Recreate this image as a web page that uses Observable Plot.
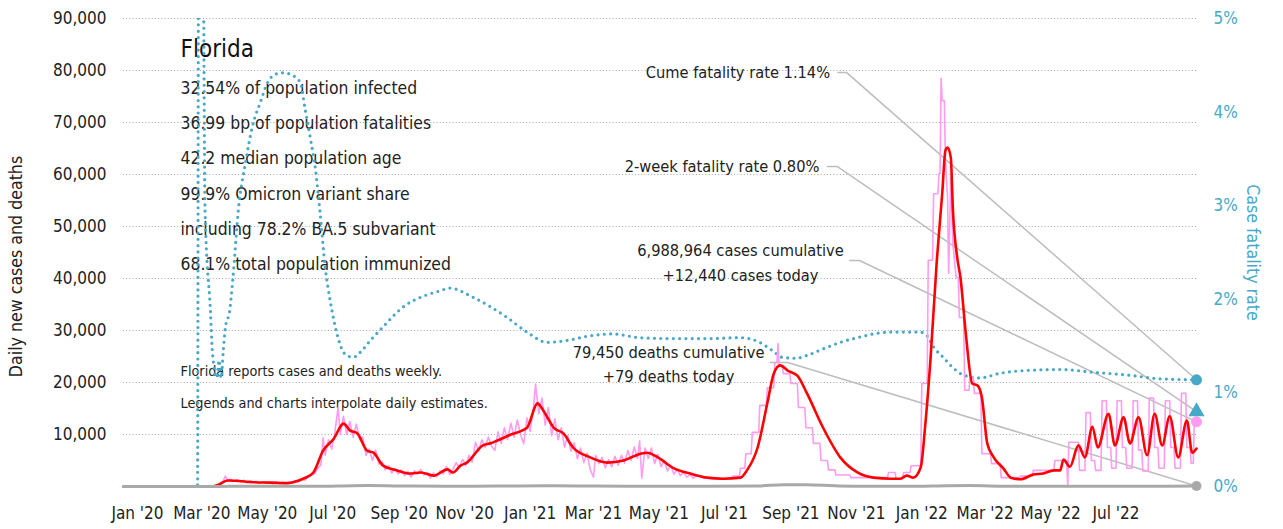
<!DOCTYPE html>
<html><head><meta charset="utf-8">
<script src="https://cdn.jsdelivr.net/npm/d3@7"></script>
<script src="https://cdn.jsdelivr.net/npm/@observablehq/plot@0.6"></script>
<style>html,body{margin:0;padding:0;background:#fff}svg{display:block}svg text{font-stretch:condensed}</style>
</head><body><div id="chart"></div>
<script>
// ---------- DATA ----------
const stateName = "Florida";
const statLines = [
  "32.54% of population infected",
  "36.99 bp of population fatalities",
  "42.2 median population age",
  "99.9% Omicron variant share",
  "including 78.2% BA.5 subvariant",
  "68.1% total population immunized"
];
const noteLines = [
  "Florida reports cases and deaths weekly.",
  "Legends and charts interpolate daily estimates."
];
const xTicks = ["2020-01-01","2020-03-01","2020-05-01","2020-07-01","2020-09-01","2020-11-01",
  "2021-01-01","2021-03-01","2021-05-01","2021-07-01","2021-09-01","2021-11-01",
  "2022-01-01","2022-03-01","2022-05-01","2022-07-01"];
const yTicks = [10000,20000,30000,40000,50000,60000,70000,80000,90000];
const cfrTicks = [0,1,2,3,4,5]; // percent

// daily new cases (reported / interpolated)
const dailyCases = [
["2020-03-01",0],["2020-03-10",50],["2020-03-14",150],["2020-03-18",500],["2020-03-21",1100],["2020-03-23",2000],
["2020-03-25",1300],["2020-03-28",1400],["2020-03-31",1000],["2020-04-03",1300],["2020-04-06",900],["2020-04-09",1200],
["2020-04-12",700],["2020-04-15",1100],["2020-04-18",800],["2020-04-21",1000],["2020-04-24",600],["2020-04-27",900],
["2020-04-30",700],["2020-05-03",800],["2020-05-06",500],["2020-05-09",900],["2020-05-12",600],["2020-05-15",800],
["2020-05-18",500],["2020-05-21",900],["2020-05-24",700],["2020-05-27",1100],["2020-05-30",900],["2020-06-02",1400],
["2020-06-05",1200],["2020-06-08",1800],["2020-06-11",2200],["2020-06-14",2400],["2020-06-17",3500],["2020-06-20",4100],
["2020-06-22",9300],["2020-06-24",6000],["2020-06-27",9000],["2020-06-30",7200],["2020-07-03",10500],["2020-07-06",15200],
["2020-07-08",10000],["2020-07-11",13500],["2020-07-14",10000],["2020-07-17",12500],["2020-07-20",9500],["2020-07-23",12000],
["2020-07-26",9000],["2020-07-29",9500],["2020-08-01",6000],["2020-08-04",7200],["2020-08-07",5000],["2020-08-10",7000],
["2020-08-13",4300],["2020-08-16",4800],["2020-08-19",3200],["2020-08-22",4000],["2020-08-25",2600],["2020-08-28",3500],
["2020-08-31",2400],["2020-09-03",3200],["2020-09-06",2100],["2020-09-09",2900],["2020-09-12",1800],["2020-09-15",3000],
["2020-09-18",2400],["2020-09-21",3300],["2020-09-24",2200],["2020-09-27",2700],["2020-09-30",1600],["2020-10-03",2600],
["2020-10-06",1900],["2020-10-09",3000],["2020-10-12",2400],["2020-10-15",3900],["2020-10-18",2300],["2020-10-21",3300],
["2020-10-24",4600],["2020-10-27",3600],["2020-10-30",5200],["2020-11-02",4000],["2020-11-05",6000],["2020-11-08",4700],
["2020-11-11",8500],["2020-11-14",6800],["2020-11-17",9000],["2020-11-20",7500],["2020-11-23",9500],["2020-11-26",7800],
["2020-11-29",6900],["2020-12-02",10500],["2020-12-05",8300],["2020-12-08",11300],["2020-12-11",9000],["2020-12-14",12200],
["2020-12-17",9500],["2020-12-20",12800],["2020-12-23",10000],["2020-12-26",8200],["2020-12-29",13200],["2021-01-01",10600],
["2021-01-04",15000],["2021-01-06",19700],["2021-01-09",14000],["2021-01-12",17000],["2021-01-15",11800],["2021-01-18",15200],
["2021-01-21",9800],["2021-01-24",13000],["2021-01-27",9000],["2021-01-30",11300],["2021-02-02",7600],["2021-02-05",9800],
["2021-02-08",6800],["2021-02-11",8400],["2021-02-14",5300],["2021-02-17",7400],["2021-02-20",4600],["2021-02-23",6400],
["2021-02-26",3200],["2021-03-01",1800],["2021-03-03",6000],["2021-03-06",4400],["2021-03-09",5600],["2021-03-12",3600],
["2021-03-15",5200],["2021-03-18",3800],["2021-03-21",5800],["2021-03-24",4100],["2021-03-27",6000],["2021-03-30",4500],
["2021-04-02",6900],["2021-04-05",5000],["2021-04-08",7600],["2021-04-11",5400],["2021-04-13",8800],["2021-04-15",1600],
["2021-04-18",7400],["2021-04-21",5400],["2021-04-24",7400],["2021-04-27",4400],["2021-04-30",6200],["2021-05-03",3800],
["2021-05-06",5000],["2021-05-09",3000],["2021-05-12",4000],["2021-05-15",2400],["2021-05-18",3300],["2021-05-21",2100],
["2021-05-24",2800],["2021-05-27",1800],["2021-05-30",2300],["2021-06-02",1600],
["2021-06-04",2000],["2021-06-10",2000],["2021-06-11",1600],["2021-06-17",1600],["2021-06-18",1500],["2021-06-24",1500],
["2021-06-25",1400],["2021-07-01",1400],["2021-07-02",1600],["2021-07-08",1600],["2021-07-09",2000],["2021-07-15",2000],
["2021-07-16",3500],["2021-07-20",3500],["2021-07-21",6300],["2021-07-26",6300],["2021-07-27",10400],["2021-08-02",10400],
["2021-08-03",15600],["2021-08-09",15600],["2021-08-10",19000],["2021-08-16",19000],["2021-08-17",23800],["2021-08-19",23800],
["2021-08-20",27500],["2021-08-21",23200],["2021-08-24",23200],["2021-08-25",21700],["2021-08-31",21700],["2021-09-01",19800],
["2021-09-07",19800],["2021-09-08",15200],["2021-09-14",15200],["2021-09-15",11300],["2021-09-21",11300],["2021-09-22",8300],
["2021-09-28",8300],["2021-09-29",5000],["2021-10-05",5000],["2021-10-06",3200],["2021-10-12",3200],["2021-10-13",2200],
["2021-10-26",2200],["2021-10-27",1700],["2021-11-30",1700],["2021-12-01",2700],["2021-12-07",2700],["2021-12-08",1500],
["2021-12-14",1500],["2021-12-15",2700],["2021-12-21",2700],["2021-12-22",4000],["2021-12-31",4000],
["2022-01-01",19800],["2022-01-06",19800],["2022-01-07",43500],["2022-01-11",43500],["2022-01-12",56300],["2022-01-16",56300],
["2022-01-17",60200],["2022-01-18",60200],["2022-01-19",78500],["2022-01-20",74200],["2022-01-22",74200],["2022-01-23",62700],
["2022-01-25",55600],["2022-01-26",41000],["2022-01-28",59400],["2022-01-30",46700],["2022-02-02",40200],["2022-02-04",40200],
["2022-02-05",32500],["2022-02-09",32500],["2022-02-10",18500],["2022-02-14",18500],["2022-02-15",21000],["2022-02-18",21000],
["2022-02-19",17900],["2022-02-25",17900],["2022-02-26",6300],["2022-03-06",6300],["2022-03-07",4400],["2022-03-15",4400],
["2022-03-16",1700],["2022-04-02",1700],["2022-04-03",2000],["2022-04-14",2000],["2022-04-15",3100],["2022-05-04",3100],
["2022-05-05",5000],["2022-05-16",5000],["2022-05-17",0],["2022-05-18",8500],["2022-05-27",8500],["2022-05-28",3100],
["2022-06-02",3100],["2022-06-03",14200],["2022-06-07",14200],["2022-06-08",5000],["2022-06-11",5000],["2022-06-12",3100],
["2022-06-17",3100],["2022-06-18",16500],["2022-06-22",16500],["2022-06-23",7500],["2022-06-26",7500],["2022-06-27",3500],
["2022-07-01",3500],["2022-07-02",16500],["2022-07-06",16500],["2022-07-07",7500],["2022-07-10",7500],["2022-07-11",3500],
["2022-07-16",3500],["2022-07-17",16500],["2022-07-21",16500],["2022-07-22",7000],["2022-07-25",7000],["2022-07-26",3000],
["2022-07-31",3000],["2022-08-01",17000],["2022-08-05",17000],["2022-08-06",7500],["2022-08-09",7500],["2022-08-10",3500],
["2022-08-15",3500],["2022-08-16",16500],["2022-08-20",16500],["2022-08-21",7500],["2022-08-24",7500],["2022-08-25",3500],
["2022-08-30",3500],["2022-08-31",17900],["2022-09-04",17900],["2022-09-05",7500],["2022-09-08",7500],["2022-09-09",4500],
["2022-09-11",4500],["2022-09-12",12440],["2022-09-14",12440]
];

// 7-day average of new cases
const avgCases = [
["2019-12-19",0],["2020-03-09",0],["2020-03-16",300],["2020-03-25",1150],["2020-04-01",1100],["2020-04-18",830],
["2020-05-04",750],["2020-05-20",640],["2020-05-25",830],["2020-06-04",1540],["2020-06-13",2700],["2020-06-22",6900],
["2020-07-02",9200],["2020-07-11",12100],["2020-07-17",10800],["2020-07-24",10200],["2020-08-02",6900],["2020-08-08",6500],
["2020-08-17",4000],["2020-08-30",3100],["2020-09-11",2500],["2020-09-21",2700],["2020-10-03",2100],["2020-10-16",3300],
["2020-10-21",2700],["2020-10-28",4000],["2020-11-03",4600],["2020-11-18",7900],["2020-11-25",8300],["2020-12-01",8800],
["2020-12-14",10000],["2020-12-29",11300],["2021-01-08",16000],["2021-01-10",15600],["2021-01-17",13300],["2021-01-23",11300],
["2021-02-01",10200],["2021-02-10",7500],["2021-02-26",5600],["2021-03-14",4600],["2021-03-29",5000],["2021-04-14",6300],
["2021-04-20",6500],["2021-04-30",5600],["2021-05-15",3500],["2021-05-30",2500],["2021-06-15",1700],["2021-06-30",1500],
["2021-07-16",1700],["2021-07-22",3100],["2021-08-01",7500],["2021-08-10",16000],["2021-08-16",21700],["2021-08-22",23300],
["2021-08-29",22300],["2021-09-07",21300],["2021-09-16",17900],["2021-10-01",11300],["2021-10-17",5600],["2021-11-02",2700],
["2021-11-17",1700],["2021-12-03",1500],["2021-12-12",1500],["2021-12-18",2100],["2021-12-24",1700],["2021-12-31",3700],
["2022-01-04",11300],["2022-01-09",24200],["2022-01-15",43500],["2022-01-20",56300],["2022-01-23",64600],["2022-01-25",65200],
["2022-01-28",63300],["2022-01-30",53100],["2022-02-03",44000],["2022-02-06",40200],["2022-02-11",29400],["2022-02-17",19800],
["2022-02-22",19400],["2022-02-26",17100],["2022-03-03",8300],["2022-03-09",5600],["2022-03-18",3500],["2022-03-25",1700],
["2022-04-03",1400],["2022-04-15",2300],["2022-04-24",2500],["2022-05-04",3100],["2022-05-10",3100],["2022-05-13",5200],
["2022-05-19",3800],["2022-05-27",7900],["2022-06-02",5600],["2022-06-09",11500],["2022-06-14",7500],["2022-06-24",14000],
["2022-06-30",7900],["2022-07-08",13300],["2022-07-14",8300],["2022-07-22",13300],["2022-07-30",6000],["2022-08-06",14000],
["2022-08-13",7900],["2022-08-20",13500],["2022-08-28",5600],["2022-09-05",12700],["2022-09-10",6500],["2022-09-14",7300]
];

// daily deaths
const dailyDeaths = [
["2019-12-19",0],["2020-03-15",0],["2020-04-10",50],["2020-05-15",40],["2020-06-15",40],["2020-07-20",150],
["2020-08-05",180],["2020-09-01",100],["2020-10-15",60],["2020-12-01",80],["2021-01-15",160],["2021-02-15",120],
["2021-04-01",60],["2021-06-15",40],["2021-08-01",100],["2021-08-25",350],["2021-09-15",330],["2021-10-15",120],
["2021-11-15",40],["2021-12-20",30],["2022-01-25",150],["2022-02-15",180],["2022-03-20",60],["2022-05-01",25],
["2022-07-01",40],["2022-09-14",79]
];

// case fatality rate, percent
const caseFatality = [
["2019-12-19",0],["2020-02-26",0],["2020-02-27",6],["2020-03-02",6],["2020-03-04",2.95],["2020-03-09",1.88],
["2020-03-11",1.42],["2020-03-15",1.16],["2020-03-17",1.35],["2020-03-19",1.16],["2020-03-21",1.45],["2020-03-23",1.70],
["2020-03-27",1.88],["2020-03-30",2.23],["2020-04-04",2.95],["2020-04-11",3.48],["2020-04-17",3.84],["2020-04-25",4.12],
["2020-05-01",4.31],["2020-05-10",4.41],["2020-05-16",4.42],["2020-05-25",4.39],["2020-06-01",4.31],["2020-06-05",4.05],
["2020-06-10",3.73],["2020-06-15",3.38],["2020-06-19",2.95],["2020-06-24",2.34],["2020-06-29",1.96],["2020-07-05",1.63],
["2020-07-12",1.42],["2020-07-20",1.38],["2020-07-28",1.45],["2020-08-05",1.56],["2020-08-14",1.67],["2020-09-06",1.93],
["2020-09-25",2.04],["2020-10-09",2.09],["2020-10-18",2.12],["2020-11-09",2.02],["2020-12-10",1.81],["2020-12-29",1.65],
["2021-01-17",1.54],["2021-02-04",1.56],["2021-02-26",1.61],["2021-03-19",1.63],["2021-04-13",1.59],["2021-05-14",1.58],
["2021-06-15",1.58],["2021-07-16",1.59],["2021-08-03",1.54],["2021-08-15",1.45],["2021-08-24",1.38],["2021-09-06",1.37],
["2021-09-16",1.40],["2021-10-01",1.47],["2021-10-17",1.54],["2021-11-02",1.59],["2021-11-17",1.63],["2021-12-05",1.65],
["2021-12-30",1.65],["2022-01-06",1.61],["2022-01-12",1.49],["2022-01-21",1.38],["2022-01-30",1.27],["2022-02-09",1.19],
["2022-02-24",1.16],["2022-03-15",1.21],["2022-04-09",1.24],["2022-05-10",1.25],["2022-06-10",1.22],["2022-07-12",1.19],
["2022-08-12",1.15],["2022-09-14",1.14]
];

const lastDate = "2022-09-14";
const cumeFatalityRate = 1.14;   // %
const twoWeekFatalityRate = 0.80; // %
const casesToday = 12440;
const deathsToday = 79;
const casesCumulative = 6988964;
const deathsCumulative = 79450;

// ---------- LAYOUT (annotation anchors, not data) ----------
const TEAL = "#47a9c7", PINK = "#ff9bf1", RED = "#ff0000", GRAY = "#a9a9a9", LEAD = "#bdbdbd";
const pctToY = p => p * 18000; // 5% <-> 90,000 on shared frame
const fmt = d3.format(",");
const annot = [
  {key:"cume", start:"2021-10-15", elbow:"2021-10-23", v:79600, end: pctToY(cumeFatalityRate),
   text:`Cume fatality rate ${cumeFatalityRate.toFixed(2)}%`},
  {key:"two", start:"2021-10-05", elbow:"2021-10-14", v:61540, end: pctToY(twoWeekFatalityRate),
   text:`2-week fatality rate ${twoWeekFatalityRate.toFixed(2)}%`},
  {key:"cases", start:"2021-10-26", elbow:"2021-11-04", v:43460, end: casesToday},
  {key:"deaths", start:"2021-08-13", elbow:"2021-08-29", v:23850, end: deathsToday}
];
const leaderPts = annot.flatMap(a => [
  {k:a.key, d:new Date(a.start), v:a.v},
  {k:a.key, d:new Date(a.elbow), v:a.v},
  {k:a.key, d:new Date(lastDate), v:a.end}
]);

const P = arr => arr.map(([d,v]) => ({d:new Date(d), v}));
const FONT = "'DejaVu Sans Condensed','Liberation Sans Narrow','DejaVu Sans',sans-serif";
const FS = {tick:17, stat:17.4, title:24, note:14.3, ann:16.3, axis:17.6};
const TL = {frameAnchor:"top-left", textAnchor:"start", lineAnchor:"middle", dx:57};

const chart = Plot.plot({
  width: 1283, height: 529,
  marginLeft: 123, marginRight: 87, marginTop: 18, marginBottom: 43,
  x: {type:"utc", domain:[new Date("2019-12-19"), new Date(lastDate)], axis:null},
  y: {domain:[0, 90000], axis:null},
  style: {fontFamily: FONT, fontStretch:"condensed", fontSize:"17px", color:"#222", background:"#fff", overflow:"visible"},
  marks: [
    Plot.gridY(yTicks, {stroke:"#9a9a9a", strokeOpacity:0.9, strokeDasharray:"1,2.2", strokeWidth:1}),
    Plot.axisY(yTicks, {anchor:"left", tickSize:0, tickPadding:17, tickFormat:fmt, label:null, fontSize:FS.tick, fill:"#222"}),
    Plot.axisY(cfrTicks.map(pctToY), {anchor:"right", tickSize:0, tickPadding:17, tickFormat:d => (d/18000) + "%", label:null, fontSize:FS.tick, fill:TEAL}),
    Plot.axisX(xTicks.map(d => new Date(d)), {tickSize:0, tickPadding:20, tickFormat:d3.utcFormat("%b '%y"), label:null, fontSize:FS.tick, fill:"#222"}),
    Plot.text(["Daily new cases and deaths"], {frameAnchor:"left", textAnchor:"middle", lineAnchor:"middle", dx:-107, dy:14, rotate:-90, fontSize:FS.axis, fill:"#222"}),
    Plot.text(["Case fatality rate"], {frameAnchor:"right", textAnchor:"middle", lineAnchor:"middle", dx:56, dy:0, rotate:90, fontSize:FS.axis, fill:TEAL}),
    // title & stats
    Plot.text([stateName], {...TL, dy:31, fontSize:FS.title, fill:"#111"}),
    ...statLines.map((t,i) => Plot.text([t], {...TL, dy:70 + i*35.2, fontSize:FS.stat, fill:"#222"})),
    ...noteLines.map((t,i) => Plot.text([t], {...TL, dy:353 + i*32, fontSize:FS.note, fill:"#222"})),
    // leader lines
    Plot.line(leaderPts, {x:"d", y:"v", z:"k", stroke:LEAD, strokeWidth:1.5}),
    // series
    Plot.line(P(caseFatality), {x:"d", y:d => pctToY(d.v), curve:"monotone-x", stroke:TEAL, strokeWidth:3.2,
      strokeDasharray:"0,6.3", strokeLinecap:"round", clip:true}),
    Plot.line(P(dailyCases), {x:"d", y:"v", stroke:PINK, strokeWidth:1.6}),
    Plot.line(P(avgCases), {x:"d", y:"v", curve:"monotone-x", stroke:RED, strokeWidth:2.6}),
    Plot.line(P(dailyDeaths), {x:"d", y:"v", curve:"monotone-x", stroke:GRAY, strokeWidth:3}),
    // annotation text
    Plot.text([annot[0]], {x:d=>new Date(d.start), y:"v", text:"text", textAnchor:"end", dx:-8, fontSize:FS.ann, fill:"#222"}),
    Plot.text([annot[1]], {x:d=>new Date(d.start), y:"v", text:"text", textAnchor:"end", dx:-8, fontSize:FS.ann, fill:"#222"}),
    Plot.text([`${fmt(casesCumulative)} cases cumulative\n+${fmt(casesToday)} cases today`],
      {x:new Date("2021-07-16"), y:43400, textAnchor:"middle", lineHeight:1.5, fontSize:FS.ann, fill:"#222"}),
    Plot.text([`${fmt(deathsCumulative)} deaths cumulative\n+${fmt(deathsToday)} deaths today`],
      {x:new Date("2021-05-10"), y:23850, textAnchor:"middle", lineHeight:1.45, fontSize:FS.ann, fill:"#222"}),
    // end markers
    Plot.dot([{d:new Date(lastDate), v:deathsToday}], {x:"d", y:"v", r:5, fill:GRAY}),
    Plot.dot([{d:new Date(lastDate), v:casesToday}], {x:"d", y:"v", r:5.5, fill:PINK}),
    Plot.dot([{d:new Date(lastDate), v:pctToY(twoWeekFatalityRate)}], {x:"d", y:"v", r:6, symbol:"triangle", fill:TEAL}),
    Plot.dot([{d:new Date(lastDate), v:pctToY(cumeFatalityRate)}], {x:"d", y:"v", r:5.5, fill:TEAL})
  ]
});
document.getElementById("chart").appendChild(chart);
</script></body></html>
